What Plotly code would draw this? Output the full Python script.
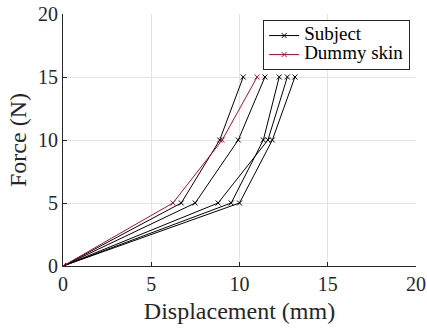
import plotly.graph_objects as go

force = [0, 5, 10, 15]
subject_1 = [0, 6.70, 8.88, 10.21]
subject_2 = [0, 7.49, 9.93, 11.44]
subject_3 = [0, 8.79, 11.61, 12.71]
subject_4 = [0, 9.53, 11.35, 12.25]
subject_5 = [0, 10.00, 11.86, 13.14]
dummy_skin = [0, 6.23, 9.02, 11.00]
subjects = [subject_1, subject_2, subject_3, subject_4, subject_5]
tick_vals = [0, 5, 10, 15, 20]

FONT = "Liberation Serif"
BLACK = "#000000"
RED = "#A2142F"
LEG = '<span style="font-size:19px">{}</span>'

fig = go.Figure()
for i, s in enumerate(subjects):
    fig.add_trace(go.Scatter(
        x=s, y=force, mode="lines+markers", name=LEG.format("Subject"),
        legendgroup="subject", showlegend=(i == 0),
        line=dict(color=BLACK, width=1),
        marker=dict(symbol="x-thin", size=5, line=dict(color=BLACK, width=1), color=BLACK),
    ))
fig.add_trace(go.Scatter(
    x=dummy_skin, y=force, mode="lines+markers", name=LEG.format("Dummy skin"),
    line=dict(color=RED, width=1),
    marker=dict(symbol="x-thin", size=5, line=dict(color=RED, width=1), color=RED),
))

axis_common = dict(
    range=[0, 20], tickvals=tick_vals, showgrid=True, gridcolor="#e3e3e3", gridwidth=1,
    zeroline=False, showline=True, linecolor="#262626", linewidth=1,
    ticks="inside", ticklen=4, tickcolor="#262626", automargin=False,
    tickfont=dict(family=FONT, size=20, color="#262626"),
)
fig.update_xaxes(**axis_common, title=dict(text="Displacement (mm)", font=dict(family=FONT, size=24, color="#262626"), standoff=8))
fig.update_yaxes(**axis_common, title=dict(text="Force (N)", font=dict(family=FONT, size=24, color="#262626"), standoff=4))

fig.update_layout(
    width=427, height=332, autosize=False,
    margin=dict(l=63, r=11, t=14, b=66),
    paper_bgcolor="white", plot_bgcolor="white",
    font=dict(family=FONT, color="#000000"),
    legend=dict(
        x=0.567, y=0.976, xanchor="left", yanchor="top",
        bgcolor="white", bordercolor="#262626", borderwidth=1,
        font=dict(family=FONT, size=12, color="#000000"),
        tracegroupgap=0, itemwidth=30,
    ),
)
fig.write_html("out.html")
